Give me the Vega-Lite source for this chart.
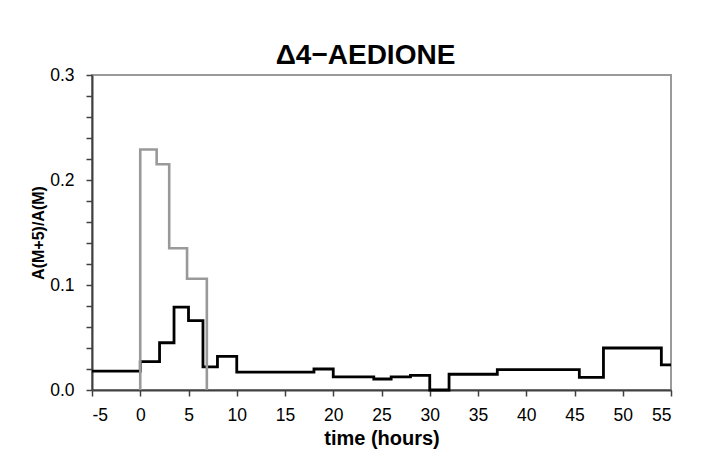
{
  "$schema": "https://vega.github.io/schema/vega-lite/v6.json",
  "autosize": {"type": "none"},
  "padding": {"left": 92, "top": 75, "right": 36, "bottom": 78},
  "width": 579,
  "height": 315,
  "background": "white",
  "title": {
    "text": "Δ4−AEDIONE",
    "font": "Liberation Sans",
    "fontSize": 28,
    "fontWeight": "bold",
    "color": "black",
    "anchor": "middle",
    "baseline": "alphabetic",
    "offset": 10,
    "dx": -16,
    "dy": 36
  },
  "config": {
    "view": {"stroke": "#9a9a9a", "strokeWidth": 2},
    "axis": {
      "labelFont": "Liberation Sans",
      "titleFont": "Liberation Sans",
      "labelFontSize": 17.5,
      "labelColor": "black",
      "titleColor": "black",
      "domainColor": "#404040",
      "domainWidth": 2,
      "tickColor": "#404040",
      "tickWidth": 1.5,
      "tickSize": 6,
      "grid": false
    }
  },
  "datasets": {
    "steps": [
      {"series": "labeled", "time": -5, "ratio": 0.018},
      {"series": "labeled", "time": 0, "ratio": 0.027},
      {"series": "labeled", "time": 2, "ratio": 0.045},
      {"series": "labeled", "time": 3.5, "ratio": 0.079},
      {"series": "labeled", "time": 5, "ratio": 0.066},
      {"series": "labeled", "time": 6.5, "ratio": 0.022},
      {"series": "labeled", "time": 8, "ratio": 0.032},
      {"series": "labeled", "time": 10, "ratio": 0.017},
      {"series": "labeled", "time": 18, "ratio": 0.020},
      {"series": "labeled", "time": 20, "ratio": 0.0125},
      {"series": "labeled", "time": 24.2, "ratio": 0.0105},
      {"series": "labeled", "time": 26, "ratio": 0.0125},
      {"series": "labeled", "time": 28, "ratio": 0.014},
      {"series": "labeled", "time": 30, "ratio": 0.0},
      {"series": "labeled", "time": 32, "ratio": 0.015},
      {"series": "labeled", "time": 37, "ratio": 0.0195},
      {"series": "labeled", "time": 45.5, "ratio": 0.012},
      {"series": "labeled", "time": 48, "ratio": 0.040},
      {"series": "labeled", "time": 54, "ratio": 0.024},
      {"series": "labeled", "time": 55, "ratio": 0.024},
      {"series": "infusion", "time": 0, "ratio": 0.0},
      {"series": "infusion", "time": 0, "ratio": 0.229},
      {"series": "infusion", "time": 1.7, "ratio": 0.215},
      {"series": "infusion", "time": 3, "ratio": 0.135},
      {"series": "infusion", "time": 4.85, "ratio": 0.106},
      {"series": "infusion", "time": 6.9, "ratio": 0.0}
    ]
  },
  "data": {"name": "steps"},
  "encoding": {
    "x": {
      "field": "time",
      "type": "quantitative",
      "scale": {"domain": [-5, 55], "nice": false, "zero": false},
      "axis": {
        "title": "time (hours)",
        "titleFontWeight": "bold",
        "titleFontSize": 20,
        "values": [-5, 0, 5, 10, 15, 20, 25, 30, 35, 40, 45, 50, 55],
        "labelExpr": "'' + datum.value",
        "labelPadding": 10,
        "titlePadding": 5
      }
    },
    "y": {
      "field": "ratio",
      "type": "quantitative",
      "scale": {"domain": [0, 0.3], "nice": false},
      "axis": {
        "title": "A(M+5)/A(M)",
        "titleFontWeight": "bold",
        "titleFontSize": 16,
        "values": [0, 0.02, 0.04, 0.06, 0.08, 0.1, 0.12, 0.14, 0.16, 0.18, 0.2, 0.22, 0.24, 0.26, 0.28, 0.3],
        "labelExpr": "abs(datum.value * 10 - round(datum.value * 10)) < 0.001 ? format(datum.value, '.1f') : ''",
        "labelPadding": 12,
        "titlePadding": 3,
        "labelOverlap": false
      }
    }
  },
  "layer": [
    {
      "transform": [{"filter": "datum.series === 'labeled'"}],
      "mark": {"type": "line", "interpolate": "step-after", "color": "black", "strokeWidth": 2.8, "strokeJoin": "miter", "strokeCap": "butt"}
    },
    {
      "transform": [{"filter": "datum.series === 'infusion'"}],
      "mark": {"type": "line", "interpolate": "step-after", "color": "#999999", "strokeWidth": 2.6, "strokeJoin": "miter", "strokeCap": "butt"}
    }
  ]
}
